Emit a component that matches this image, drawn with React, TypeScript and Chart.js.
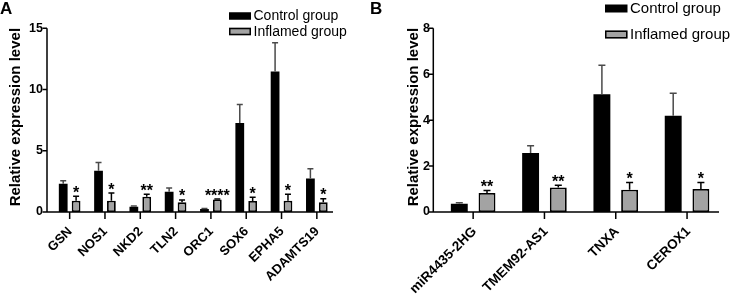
import React, { useEffect, useRef } from "react";
import { Chart, registerables } from "chart.js";

Chart.register(...registerables);

const FONT = '"Liberation Sans", Arial, Helvetica, sans-serif';

// ---------- Panel A data ----------
const categoriesA = ["GSN", "NOS1", "NKD2", "TLN2", "ORC1", "SOX6", "EPHA5", "ADAMTS19"];
const controlA = [2.31, 3.37, 0.43, 1.66, 0.24, 7.26, 11.47, 2.74];
const controlErrA = [0.24, 0.68, 0.06, 0.3, 0.04, 1.52, 2.36, 0.79];
const inflamedA = [0.92, 0.92, 1.25, 0.79, 1.03, 0.9, 0.92, 0.79];
const inflamedErrA = [0.36, 0.63, 0.19, 0.19, 0.03, 0.3, 0.52, 0.3];
const sigA = ["*", "*", "**", "*", "****", "*", "*", "*"];
const yTicksA = [0, 5, 10, 15];

// ---------- Panel B data ----------
const categoriesB = ["miR4435-2HG", "TMEM92-AS1", "TNXA", "CEROX1"];
const controlB = [0.36, 2.57, 5.13, 4.19];
const controlErrB = [0.04, 0.31, 1.26, 0.98];
const inflamedB = [0.83, 1.07, 0.97, 1.0];
const inflamedErrB = [0.11, 0.09, 0.31, 0.28];
const sigB = ["**", "**", "*", "*"];
const yTicksB = [0, 2, 4, 6, 8];

const seriesNames = ["Control group", "Inflamed group"];
const CONTROL_COLOR = "#000000";
const INFLAMED_COLOR = "#a3a3a3";
const ERR_CONTROL = "#4a4a4a";

type Panel = {
  letter: string;
  labels: string[];
  control: number[];
  controlErr: number[];
  inflamed: number[];
  inflamedErr: number[];
  sig: string[];
  yTicks: number[];
  width: number;
  areaLeft: number;
  areaRight: number;
  axisLeft: number;
  axisRight: number;
  catPct: number;
  barPct: number;
  tickPad: number;
  titleX: number;
  capW: number;
  legX: number;
  legY: number[];
  legFont: number;
  legBoxW: number;
  legBoxH: number;
  xFont: number;
  xdx: number;
};

const panelA: Panel = {
  letter: "A",
  labels: categoriesA,
  control: controlA,
  controlErr: controlErrA,
  inflamed: inflamedA,
  inflamedErr: inflamedErrA,
  sig: sigA,
  yTicks: yTicksA,
  width: 370,
  areaLeft: 52,
  areaRight: 334.5,
  axisLeft: 47,
  axisRight: 333,
  catPct: 0.73,
  barPct: 0.68,
  tickPad: 9,
  titleX: 16,
  capW: 6,
  legX: 229,
  legY: [16, 31.5],
  legFont: 14,
  legBoxW: 22,
  legBoxH: 7.5,
  xFont: 13,
  xdx: 3,
};

const panelB: Panel = {
  letter: "B",
  labels: categoriesB,
  control: controlB,
  controlErr: controlErrB,
  inflamed: inflamedB,
  inflamedErr: inflamedErrB,
  sig: sigB,
  yTicks: yTicksB,
  width: 363,
  areaLeft: 67.5,
  areaRight: 352.7,
  axisLeft: 63.3,
  axisRight: 349,
  catPct: 0.777,
  barPct: 0.61,
  tickPad: 7.5,
  titleX: 43.5,
  capW: 7,
  legX: 235,
  legY: [8.5, 34.5],
  legFont: 15,
  legBoxW: 22.5,
  legBoxH: 8,
  xFont: 13.5,
  xdx: 4,
};

const HEIGHT = 297;
const AREA_TOP = 28.3;
const AREA_BOTTOM = 212;

function buildChart(canvas: HTMLCanvasElement, p: Panel) {
  const overlay = {
    id: "overlay",
    afterDatasetsDraw(chart: any) {
      const ctx = chart.ctx as CanvasRenderingContext2D;
      const y = chart.scales.y;
      const x = chart.scales.x;
      ctx.save();
      // error bars
      const errs = [p.controlErr, p.inflamedErr];
      const vals = [p.control, p.inflamed];
      for (let d = 0; d < 2; d++) {
        const meta = chart.getDatasetMeta(d);
        ctx.strokeStyle = d === 0 ? ERR_CONTROL : "#000";
        ctx.lineWidth = 1.5;
        meta.data.forEach((bar: any, i: number) => {
          const top = y.getPixelForValue(vals[d][i]);
          const et = y.getPixelForValue(vals[d][i] + errs[d][i]);
          ctx.beginPath();
          ctx.moveTo(bar.x, top);
          ctx.lineTo(bar.x, et);
          ctx.moveTo(bar.x - p.capW / 2, et);
          ctx.lineTo(bar.x + p.capW / 2, et);
          ctx.stroke();
        });
      }
      // significance stars
      ctx.fillStyle = "#000";
      ctx.font = `bold 16px ${FONT}`;
      ctx.textAlign = "center";
      ctx.textBaseline = "alphabetic";
      const m1 = chart.getDatasetMeta(1);
      m1.data.forEach((bar: any, i: number) => {
        const et = y.getPixelForValue(p.inflamed[i] + p.inflamedErr[i]);
        ctx.fillText(p.sig[i], bar.x, et + 1.5);
      });
      // axes
      ctx.strokeStyle = "#000";
      ctx.lineWidth = 1.5;
      ctx.beginPath();
      ctx.moveTo(p.axisLeft, y.getPixelForValue(p.yTicks[p.yTicks.length - 1]));
      ctx.lineTo(p.axisLeft, AREA_BOTTOM);
      ctx.lineTo(p.axisRight, AREA_BOTTOM);
      p.yTicks.forEach((t) => {
        const py = y.getPixelForValue(t);
        ctx.moveTo(p.axisLeft - 4.5, py);
        ctx.lineTo(p.axisLeft, py);
      });
      p.labels.forEach((_, i) => {
        const px = x.getPixelForValue(i);
        ctx.moveTo(px, AREA_BOTTOM);
        ctx.lineTo(px, AREA_BOTTOM + 7);
      });
      ctx.stroke();
      // x tick labels (rotated 45°)
      ctx.font = `bold ${p.xFont}px ${FONT}`;
      ctx.textAlign = "right";
      ctx.textBaseline = "alphabetic";
      p.labels.forEach((lab, i) => {
        const px = x.getPixelForValue(i);
        ctx.save();
        ctx.translate(px + p.xdx, AREA_BOTTOM + 20);
        ctx.rotate(-Math.PI / 4);
        ctx.fillText(lab, 0, 0);
        ctx.restore();
      });
      // y title
      ctx.save();
      ctx.translate(p.titleX, (AREA_TOP + AREA_BOTTOM) / 2 - 3);
      ctx.rotate(-Math.PI / 2);
      ctx.font = `bold 15px ${FONT}`;
      ctx.textAlign = "center";
      ctx.textBaseline = "middle";
      ctx.fillText("Relative expression level", 0, 0);
      ctx.restore();
      // panel letter
      ctx.font = `bold 17px ${FONT}`;
      ctx.textAlign = "left";
      ctx.textBaseline = "top";
      ctx.fillText(p.letter, 0, 1);
      // legend
      ctx.font = `${p.legFont}px ${FONT}`;
      ctx.textBaseline = "middle";
      ctx.textAlign = "left";
      [CONTROL_COLOR, INFLAMED_COLOR].forEach((c, k) => {
        const cy = p.legY[k];
        ctx.fillStyle = c;
        ctx.fillRect(p.legX, cy - p.legBoxH / 2, p.legBoxW, p.legBoxH);
        if (k === 1) {
          ctx.strokeStyle = "#000";
          ctx.lineWidth = 1.5;
          ctx.strokeRect(p.legX + 0.75, cy - p.legBoxH / 2 + 0.75, p.legBoxW - 1.5, p.legBoxH - 1.5);
        }
        ctx.fillStyle = "#000";
        ctx.fillText(seriesNames[k], p.legX + p.legBoxW + 2.5, cy + 0.5);
      });
      ctx.restore();
    },
  };

  return new Chart(canvas, {
    type: "bar",
    data: {
      labels: p.labels,
      datasets: [
        {
          label: seriesNames[0],
          data: p.control,
          backgroundColor: CONTROL_COLOR,
          borderWidth: 0,
          categoryPercentage: p.catPct,
          barPercentage: p.barPct,
        },
        {
          label: seriesNames[1],
          data: p.inflamed,
          backgroundColor: INFLAMED_COLOR,
          borderColor: "#000",
          borderWidth: 1.8,
          borderSkipped: false,
          categoryPercentage: p.catPct,
          barPercentage: p.barPct,
        },
      ],
    },
    options: {
      responsive: false,
      animation: false,
      devicePixelRatio: 1,
      layout: {
        padding: { left: 0, right: p.width - p.areaRight, top: AREA_TOP, bottom: 0 },
      },
      plugins: {
        legend: { display: false },
        tooltip: { enabled: false },
        title: { display: false },
      },
      scales: {
        x: {
          type: "category",
          offset: true,
          grid: { display: false, drawTicks: false },
          border: { display: false },
          ticks: { display: false },
          afterFit: (s: any) => {
            s.height = HEIGHT - AREA_BOTTOM;
          },
        },
        y: {
          min: 0,
          max: p.yTicks[p.yTicks.length - 1],
          afterBuildTicks: (s: any) => {
            s.ticks = p.yTicks.map((v) => ({ value: v }));
          },
          grid: { display: false, drawTicks: false },
          border: { display: false },
          ticks: {
            padding: p.tickPad,
            color: "#000",
            font: { family: FONT, size: 12.5, weight: "bold" },
          },
          afterFit: (s: any) => {
            s.width = p.areaLeft;
          },
        },
      },
    },
    plugins: [overlay],
  } as any);
}

function PanelChart({ p, left }: { p: Panel; left: number }) {
  const ref = useRef<HTMLCanvasElement | null>(null);
  useEffect(() => {
    if (!ref.current) return;
    const c = buildChart(ref.current, p);
    return () => c.destroy();
  }, [p]);
  return (
    <canvas
      ref={ref}
      width={p.width}
      height={HEIGHT}
      style={{ position: "absolute", left, top: 0, width: p.width, height: HEIGHT }}
    />
  );
}

export default function App() {
  return (
    <div
      style={{
        position: "fixed",
        left: 0,
        top: 0,
        width: 733,
        height: HEIGHT,
        background: "#fff",
        overflow: "hidden",
      }}
    >
      <PanelChart p={panelA} left={0} />
      <PanelChart p={panelB} left={370} />
    </div>
  );
}
